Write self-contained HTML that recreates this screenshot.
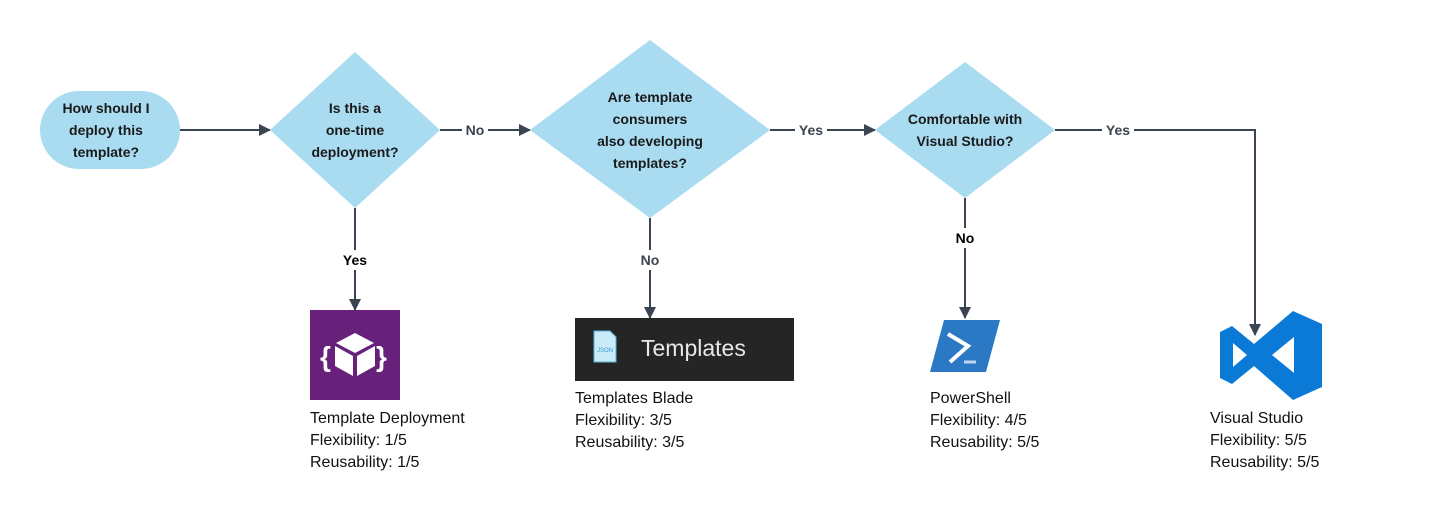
<!DOCTYPE html>
<html><head><style>body{margin:0;background:#fff}svg{display:block}</style></head><body>
<svg width="1430" height="521" viewBox="0 0 1430 521" xmlns="http://www.w3.org/2000/svg" font-family="Liberation Sans, sans-serif">
<defs><marker id="a" markerWidth="12" markerHeight="12" refX="11" refY="6" orient="auto" markerUnits="userSpaceOnUse"><path d="M0,0 L12,6 L0,12 z" fill="#3b4451"/></marker></defs>
<g stroke="#3b4451" stroke-width="2" fill="none">
<line x1="180" y1="130" x2="270" y2="130" marker-end="url(#a)"/>
<line x1="440" y1="130" x2="530" y2="130" marker-end="url(#a)"/>
<line x1="770" y1="130" x2="875" y2="130" marker-end="url(#a)"/>
<polyline points="1055,130 1255,130 1255,335" marker-end="url(#a)"/>
<line x1="355" y1="208" x2="355" y2="310" marker-end="url(#a)"/>
<line x1="650" y1="218" x2="650" y2="318" marker-end="url(#a)"/>
<line x1="965" y1="198" x2="965" y2="318" marker-end="url(#a)"/>
</g>
<g fill="#fff"><rect x="462" y="120" width="26" height="20"/><rect x="795" y="120" width="32" height="20"/><rect x="1102" y="120" width="32" height="20"/><rect x="338" y="250" width="34" height="20"/><rect x="637" y="250" width="26" height="20"/><rect x="952" y="228" width="26" height="20"/></g>
<g font-weight="bold" font-size="14" fill="#3b4451" text-anchor="middle">
<text x="475" y="135">No</text><text x="811" y="135">Yes</text><text x="1118" y="135">Yes</text>
<text x="355" y="265" fill="#000">Yes</text><text x="650" y="265">No</text><text x="965" y="243" fill="#000">No</text></g>
<g fill="#a9dcf1">
<rect x="40" y="91" width="140" height="78" rx="39"/>
<polygon points="355,52 440,130 355,208 270,130"/>
<polygon points="650,40 770,130 650,218 530,130"/>
<polygon points="965,62 1055,130 965,198 875,130"/>
</g>
<g font-weight="bold" font-size="14" fill="#1a1a1a" text-anchor="middle">
<text x="106" y="113">How should I</text><text x="106" y="135">deploy this</text><text x="106" y="157">template?</text>
<text x="355" y="113">Is this a</text><text x="355" y="135">one-time</text><text x="355" y="157">deployment?</text>
<text x="650" y="102">Are template</text><text x="650" y="124">consumers</text><text x="650" y="146">also developing</text><text x="650" y="168">templates?</text>
<text x="965" y="124">Comfortable with</text><text x="965" y="146">Visual Studio?</text>
</g>
<rect x="310" y="310" width="90" height="90" fill="#68217a"/>
<g fill="#fff"><path d="M355,333 L374,343 L355,353 L336,343 Z"/><path d="M335,346 L353,356 L353,376 L335,366 Z"/><path d="M375,346 L357,356 L357,376 L375,366 Z"/>
<text x="320" y="366" font-size="28" font-weight="bold">{</text><text x="376" y="366" font-size="28" font-weight="bold">}</text></g>
<rect x="575" y="318" width="219" height="63" fill="#252525"/>
<path d="M594,331 h16 l6,6 v25 h-22 z" fill="#c9ebf7" stroke="#5bb3dd"/>
<text x="597" y="352" font-size="6" fill="#3a9ad3">JSON</text>
<text x="641" y="356" font-size="23" fill="#e8e8e8">Templates</text>
<path d="M944,320 L1000,320 L986,372 L930,372 Z" fill="#2b78c4"/>
<path d="M948,334 L968,346 L950,362" stroke="#fff" stroke-width="4" fill="none"/>
<line x1="964" y1="362" x2="976" y2="362" stroke="#bcd8f0" stroke-width="3"/>
<path d="M1293,311 L1322,324 L1322,387 L1293,400 L1254,366 L1232,384 L1220,378 L1220,332 L1232,326 L1254,344 Z M1233,343 L1233,367 L1247,355 Z M1294,337 L1294,373 L1272,355 Z" fill="#0a7ad6" fill-rule="evenodd"/>
<g font-size="16" fill="#111">
<text x="310" y="423">Template Deployment</text><text x="310" y="445">Flexibility: 1/5</text><text x="310" y="467">Reusability: 1/5</text>
<text x="575" y="403">Templates Blade</text><text x="575" y="425">Flexibility: 3/5</text><text x="575" y="447">Reusability: 3/5</text>
<text x="930" y="403">PowerShell</text><text x="930" y="425">Flexibility: 4/5</text><text x="930" y="447">Reusability: 5/5</text>
<text x="1210" y="423">Visual Studio</text><text x="1210" y="445">Flexibility: 5/5</text><text x="1210" y="467">Reusability: 5/5</text>
</g>
</svg>
</body></html>
